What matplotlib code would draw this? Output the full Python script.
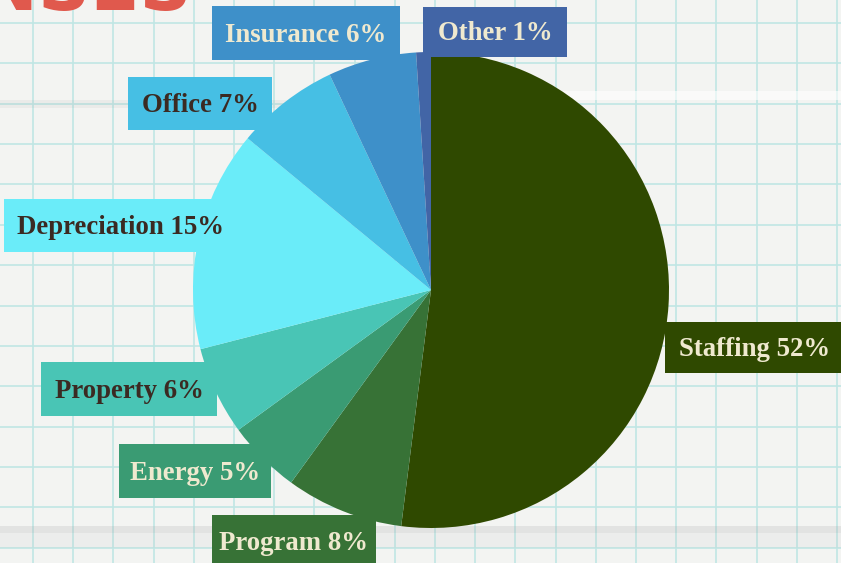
import matplotlib
matplotlib.use("Agg")
import matplotlib.pyplot as plt
from matplotlib.patches import Rectangle

categories = ["Staffing", "Program", "Energy", "Property", "Depreciation", "Office", "Insurance", "Other"]
values = [52, 8, 5, 6, 15, 7, 6, 1]
colors = ["#2f4900", "#377236", "#3a9b73", "#49c5b5", "#6aecf9", "#46bfe4", "#3e90c9", "#4265a6"]
text_colors = ["#efe9cf", "#efe9cf", "#efe9cf", "#3b2a22", "#3b2a22", "#3b2a22", "#efe9cf", "#efe9cf"]
labels = [f"{c} {v}%" for c, v in zip(categories, values)]

# label box geometry in pixels (left, top, right, bottom), measured from top
boxes = [
    (665, 322, 845, 373),
    (212, 515, 376, 570),
    (119, 444, 271, 498),
    (41, 362, 217, 416),
    (4, 199, 238, 252),
    (128, 77, 272, 130),
    (212, 6, 400, 60),
    (423, 7, 567, 57),
]

W, H = 841, 563
fig = plt.figure(figsize=(W / 100, H / 100), dpi=100)
fig.patch.set_facecolor("#f3f4f2")
ax = fig.add_axes([0, 0, 1, 1])
ax.set_xlim(0, W)
ax.set_ylim(0, H)
ax.set_aspect("equal")
ax.axis("off")

def Y(y):
    return H - y

# graph paper
gc = "#c0e6e4"
x = 33.0
while x < W + 5:
    ax.plot([x, x], [0, H], color=gc, lw=1.2, zorder=0)
    x += 40.2
y = 22.7
while y < H + 5:
    ax.plot([0, W], [Y(y), Y(y)], color=gc, lw=1.2, zorder=0)
    y += 40.4

# paper creases
ax.fill_between([300, W], Y(100), Y(91), color="white", alpha=0.6, zorder=0.5, lw=0)
ax.fill_between([0, 320], Y(108), Y(100), color="#a0a0a0", alpha=0.10, zorder=0.5, lw=0)
ax.axhspan(Y(533), Y(526), color="#a8a8aa", alpha=0.22, zorder=0.5, lw=0)
ax.axhspan(Y(548), Y(533), color="#b8b8ba", alpha=0.10, zorder=0.5, lw=0)

# title remnant
ax.text(192, Y(10), "EXPENSES", ha="right", va="baseline", fontsize=52,
        fontweight="heavy", family="DejaVu Sans", color="#e0594d", zorder=1)

# pie
wedges, _ = ax.pie(values, colors=colors, startangle=90, counterclock=False,
                   center=(431, Y(290)), radius=238, frame=True,
                   wedgeprops=dict(linewidth=0))
for w in wedges:
    w.set_zorder(2)
ax.set_xlim(0, W)
ax.set_ylim(0, H)
ax.axis("off")

# labels
for lab, col, tc, (l, t, r, b) in zip(labels, colors, text_colors, boxes):
    ax.add_patch(Rectangle((l, Y(b)), r - l, b - t, facecolor=col, edgecolor="none", zorder=3))
    ax.text((l + r) / 2, Y((t + min(b, 568)) / 2) + 1, lab, ha="center", va="center_baseline",
            fontsize=19.3, fontweight="bold", family="Liberation Serif", color=tc, zorder=4)

fig.savefig("out.png", dpi=100, facecolor=fig.get_facecolor())
